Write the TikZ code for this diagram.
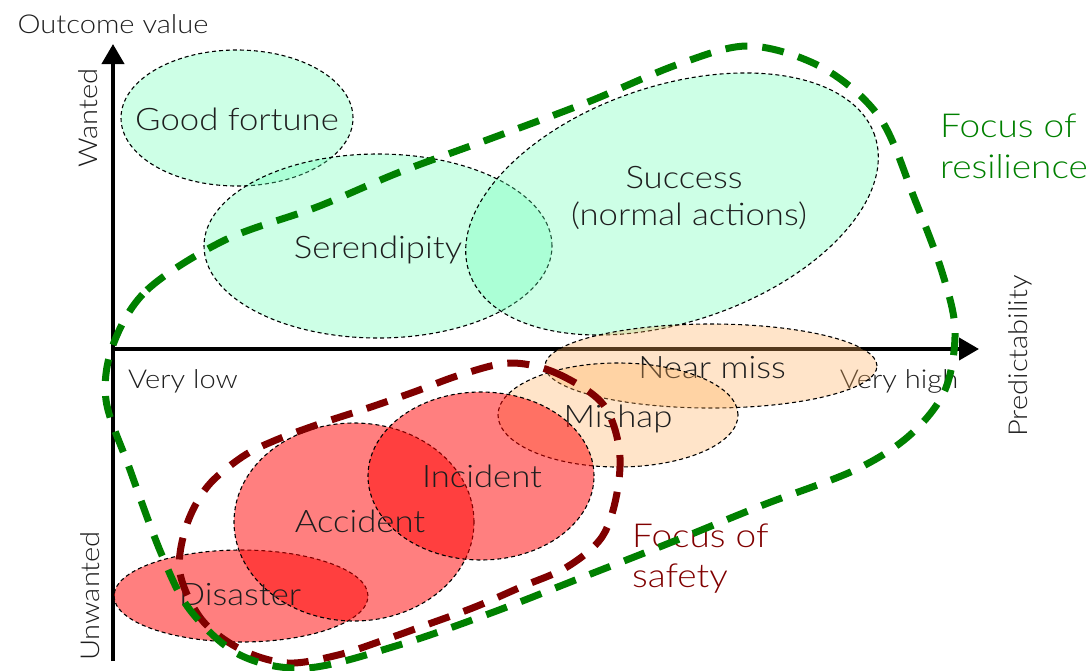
\documentclass[tikz,border=0pt]{standalone}
\usepackage{fontspec}
\IfFontExistsTF{Lato Light}
  {\setmainfont{Lato Light}[FakeStretch=1.12]}
  {\setmainfont{Lato}[FakeStretch=1.12]}
\usetikzlibrary{shapes.geometric,arrows.meta}

\definecolor{mint}{RGB}{102,255,180}
\definecolor{peach}{RGB}{255,174,90}
\definecolor{resgreen}{RGB}{0,128,0}
\definecolor{safered}{RGB}{128,0,0}
\definecolor{ink}{RGB}{30,30,30}

\begin{document}
\begin{tikzpicture}[x=1pt,y=-1pt,
  zone/.style={ellipse, inner sep=0pt, draw=black, line width=1.1pt,
    dash pattern=on 4pt off 3pt, fill opacity=0.33},
  wantedzone/.style={zone, fill=mint},
  nearzone/.style={zone, fill=peach},
  harmzone/.style={zone, fill=red, fill opacity=0.5},
  lbl/.style={text=ink, font=\fontsize{31}{36}\selectfont, inner sep=0pt, anchor=base},
  axislbl/.style={text=ink, font=\fontsize{26}{30}\selectfont, inner sep=0pt},
  axisline/.style={line width=4pt, -{Triangle[length=20pt,width=22pt]}},
  focusline/.style={line width=7pt, dash pattern=on 22pt off 15pt},
  focuslbl/.style={font=\fontsize{33}{40}\selectfont, inner sep=0pt, anchor=base west},
]
\useasboundingbox (0,0) rectangle (1091,670);

% wanted outcomes
\node[wantedzone, minimum width=232pt, minimum height=136pt] (fortune) at (237,118) {};
\node[wantedzone, minimum width=348pt, minimum height=184pt] (seren) at (378,246) {};
\node[wantedzone, minimum width=428pt, minimum height=236pt, rotate=18.6] (success) at (672,204) {};
\node[lbl] (fortuneT) at (237,130) {Good fortune};
\node[lbl] (serenT) at (378,258) {Serendipity};
\node[lbl] (successT) at (684,188) {Success};
\node[lbl] (normalT) at (689,225) {(normal actions)};

% axes
\coordinate (ybot) at (113,661);
\coordinate (ytop) at (113,44);
\coordinate (xleft) at (111,349);
\coordinate (xright) at (979,349);
\draw[axisline] (ybot) -- (ytop);
\draw[axisline] (xleft) -- (xright);
\node[axislbl, anchor=base] (outcome) at (113,33) {Outcome value};
\node[axislbl, rotate=90] (wanted) at (88,118) {Wanted};
\node[axislbl, rotate=90] (unwanted) at (90,596) {Unwanted};
\node[axislbl, anchor=base] (vlow) at (183,388) {Very low};
\node[axislbl, anchor=base] (vhigh) at (899,388) {Very high};
\node[axislbl, rotate=90] (predict) at (1020,356) {Predictability};

% near misses and mishaps
\node[nearzone, minimum width=332pt, minimum height=84pt] (nearmiss) at (711,366) {};
\node[lbl] (nearmissT) at (712,378) {Near miss};
\node[nearzone, minimum width=240pt, minimum height=104pt] (mishap) at (618,415) {};
\node[lbl] (mishapT) at (618,427) {Mishap};

% unwanted outcomes
\node[harmzone, minimum width=254pt, minimum height=92pt] (disaster) at (241,596) {};
\node[harmzone, minimum width=240pt, minimum height=198pt] (accident) at (354,522) {};
\node[harmzone, minimum width=226pt, minimum height=168pt] (incident) at (481,476) {};
\node[lbl] (incidentT) at (482,487) {Incident};
\node[lbl] (accidentT) at (360,532) {Accident};
\node[lbl] (disasterT) at (240,605) {Disaster};

% focus of safety
\draw[focusline, safered] plot[smooth cycle, tension=0.55] coordinates {
  (510,363) (556,373) (602,403) (619,447) (617,493) (602,537) (567,567)
  (521,587) (475,607) (426,625) (384,640) (338,655) (288,663) (242,650)
  (202,620) (180,573) (186,527) (207,487) (242,457) (276,440) (322,423)
  (368,408) (414,392) (460,375)};
\node[focuslbl, text=safered] (safetyA) at (632,547) {Focus of};
\node[focuslbl, text=safered] (safetyB) at (632,587) {safety};

% focus of resilience
\draw[focusline, resgreen] plot[smooth cycle, tension=0.55] coordinates {
  (113,345) (147,290) (225,240) (317,207) (400,172) (495,137) (588,102)
  (679,64) (750,46) (823,68) (880,118) (915,200) (942,272) (955,330)
  (945,390) (910,435) (855,470) (763,505) (672,542) (583,577) (491,613)
  (399,645) (307,668) (240,655) (190,610) (161,553) (129,467) (106,400)};
\node[focuslbl, text=resgreen] (resA) at (940,137) {Focus of};
\node[focuslbl, text=resgreen] (resB) at (940,178) {resilience};

\end{tikzpicture}
\end{document}
